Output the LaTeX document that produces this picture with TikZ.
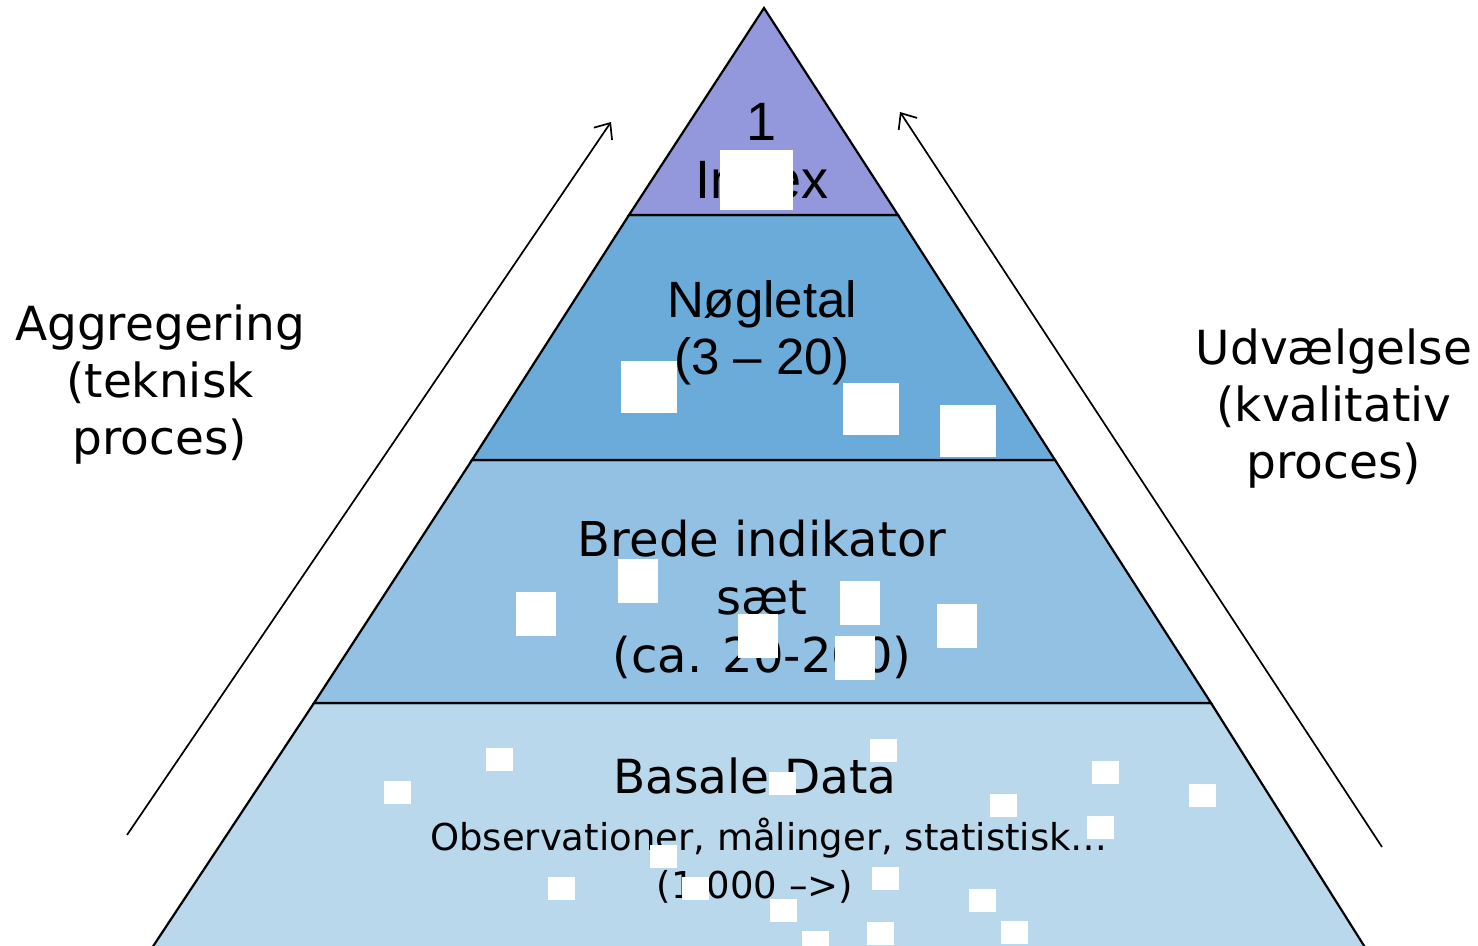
\documentclass[tikz,border=0pt]{standalone}
\usepackage{fontspec}
\setmainfont{DejaVu Sans}
\newfontfamily\arialf{Liberation Sans}
\usetikzlibrary{arrows.meta}
\definecolor{cIndex}{HTML}{9397DB}
\definecolor{cKey}{HTML}{6AABD9}
\definecolor{cBroad}{HTML}{93C1E3}
\definecolor{cBase}{HTML}{BAD8EC}
\tikzset{
  layer/.style={draw=black, line width=2.2bp, line join=miter},
  mask/.style={fill=white, draw=none},
  bigtxt/.style={anchor=base, align=center, inner sep=0pt, font=\fontsize{47bp}{57bp}\selectfont},
  artxt/.style={anchor=base, align=center, inner sep=0pt, font=\arialf\fontsize{51bp}{57bp}\selectfont},
  smalltxt/.style={anchor=base, align=center, inner sep=0pt, font=\fontsize{37bp}{48bp}\selectfont},
  procarrow/.style={draw=black, line width=1.7bp, -{Straight Barb[length=13bp,width=22bp,line width=1.7bp]}}
}
\begin{document}
\begin{tikzpicture}[x=1bp,y=-1bp]
\useasboundingbox (0,0) rectangle (1478,945);
\clip (0,0) rectangle (1478,945);
\fill[white] (0,0) rectangle (1478,945);
% pyramid layers
\path[layer, fill=cBase]  (314,703) -- (1211,703) -- (1373,960) -- (144,960) -- cycle;
\path[layer, fill=cBroad] (472,460) -- (1055,460) -- (1211,703) -- (314,703) -- cycle;
\path[layer, fill=cKey]   (629,215) -- (898,215) -- (1055,460) -- (472,460) -- cycle;
\path[layer, fill=cIndex] (764,8) -- (898,215) -- (629,215) -- cycle;
% texts (base anchor = baseline of last line)
\node[artxt, font=\arialf\fontsize{54bp}{58bp}\selectfont] (tIndex) at (762,198) {1\\Index};
\node[artxt] (tKey) at (762,374) {Nøgletal\\(3 – 20)};
\node[bigtxt, font=\fontsize{48bp}{58bp}\selectfont] (tBroad) at (762,672) {Brede indikator\\sæt\\(ca. 20-200)};
\node[bigtxt] (tBase) at (755,793) {Basale Data};
\node[smalltxt] (tObs) at (769,850) {Observationer, målinger, statistisk…};
\node[smalltxt] (tNum) at (755,898) {(1.000 –>)};
\node[bigtxt] (tAgg) at (160,454) {Aggregering\\(teknisk\\proces)};
\node[bigtxt] (tSel) at (1334,478) {Udvælgelse\\(kvalitativ\\proces)};
% arrows
\coordinate (aggS) at (127,835);
\coordinate (aggE) at (611,122);
\coordinate (selS) at (1382,847);
\coordinate (selE) at (900,112);
\draw[procarrow] (aggS) -- (aggE);
\draw[procarrow] (selS) -- (selE);
% white masking squares
\foreach \x/\y/\w/\h in {720/150/73/60,
  621/361/56/52, 843/383/56/52, 940/405/56/52,
  618/559/40/44, 516/592/40/44, 840/581/40/44, 937/604/40/44, 738/614/40/44, 835/636/40/44,
  486/748/27/23, 384/781/27/23, 650/845/27/23, 548/877/27/23, 682/877/27/23, 769/772/27/23,
  870/739/27/23, 1092/761/27/23, 1189/784/27/23, 990/794/27/23, 1087/816/27/23, 872/867/27/23,
  969/889/27/23, 770/899/27/23, 1001/921/27/23, 867/922/27/23, 802/931/27/23}
  \path[mask] (\x,\y) rectangle ++(\w,\h);
\end{tikzpicture}
\end{document}
